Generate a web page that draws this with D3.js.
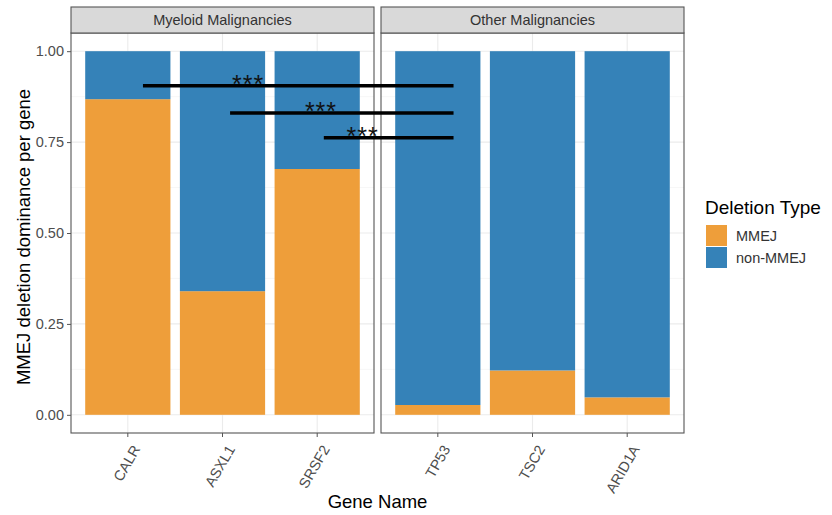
<!DOCTYPE html>
<html>
<head>
<meta charset="utf-8">
<script src="https://cdn.jsdelivr.net/npm/d3@7"></script>
<style>
  html, body { margin: 0; padding: 0; background: #fff; }
  svg { display: block; font-family: "Liberation Sans", Arial, sans-serif; }
</style>
</head>
<body>
<svg id="chart" width="832" height="515"></svg>
<script>
// ---- data ----
const genes = ["CALR", "ASXL1", "SRSF2", "TP53", "TSC2", "ARID1A"];
const facets = ["Myeloid Malignancies", "Other Malignancies"];
const geneFacet = [0, 0, 0, 1, 1, 1];
const mmejShare = [0.868, 0.34, 0.676, 0.027, 0.122, 0.048];
const deletionTypes = ["MMEJ", "non-MMEJ"];
const typeColors = ["#EE9E3A", "#3582B8"];
const yTicks = [0, 0.25, 0.5, 0.75, 1];
const yMinor = [0.125, 0.375, 0.625, 0.875];

// significance bars (x in category units of the first facet, 1 = first gene)
const sigLabels = ["***", "***", "***"];
const sigY = [0.905, 0.83, 0.762];
const sigStart = [1.16, 2.08, 3.07];
const sigEnd = [4.44, 4.44, 4.44];
const sigLabelX = [2.27, 3.04, 3.48];

// ---- layout ----
const svg = d3.select("#chart");
const plotTop = 33, plotBottom = 433, stripTop = 7;
const panelX = [[71, 374], [381, 684]];

const y = d3.scaleLinear().domain([-0.05, 1.05]).range([plotBottom, plotTop]);

const rows = genes.map((g, i) => ({ gene: g, facet: geneFacet[i], MMEJ: mmejShare[i], "non-MMEJ": 1 - mmejShare[i] }));
const stacked = d3.stack().keys(deletionTypes)(rows);
const color = d3.scaleOrdinal().domain(deletionTypes).range(typeColors);

const bandScales = facets.map((f, fi) =>
  d3.scaleBand()
    .domain(genes.filter((g, i) => geneFacet[i] === fi))
    .range(panelX[fi])
    .paddingInner(0.1)
    .paddingOuter(0.15)
);

facets.forEach((f, fi) => {
  const [x0, x1] = panelX[fi];
  const xb = bandScales[fi];
  const g = svg.append("g");

  // grid
  g.selectAll(".minor").data(yMinor).join("line")
    .attr("x1", x0).attr("x2", x1)
    .attr("y1", d => y(d)).attr("y2", d => y(d))
    .attr("stroke", "#f2f2f2").attr("stroke-width", 0.6);
  g.selectAll(".major").data(yTicks).join("line")
    .attr("x1", x0).attr("x2", x1)
    .attr("y1", d => y(d)).attr("y2", d => y(d))
    .attr("stroke", "#ebebeb").attr("stroke-width", 1.1);
  g.selectAll(".vgrid").data(xb.domain()).join("line")
    .attr("x1", d => xb(d) + xb.bandwidth() / 2).attr("x2", d => xb(d) + xb.bandwidth() / 2)
    .attr("y1", plotTop).attr("y2", plotBottom)
    .attr("stroke", "#ebebeb").attr("stroke-width", 1.1);

  // bars
  stacked.forEach(layer => {
    g.append("g").selectAll("rect")
      .data(layer.filter(d => d.data.facet === fi))
      .join("rect")
      .attr("x", d => xb(d.data.gene))
      .attr("width", xb.bandwidth())
      .attr("y", d => y(d[1]))
      .attr("height", d => y(d[0]) - y(d[1]))
      .attr("fill", color(layer.key));
  });

  // panel border
  g.append("rect")
    .attr("x", x0).attr("y", plotTop)
    .attr("width", x1 - x0).attr("height", plotBottom - plotTop)
    .attr("fill", "none").attr("stroke", "#555").attr("stroke-width", 1.1);

  // strip
  g.append("rect")
    .attr("x", x0).attr("y", stripTop)
    .attr("width", x1 - x0).attr("height", plotTop - stripTop)
    .attr("fill", "#d9d9d9").attr("stroke", "#555").attr("stroke-width", 1.1);
  g.append("text")
    .attr("x", (x0 + x1) / 2).attr("y", (stripTop + plotTop) / 2 + 5)
    .attr("text-anchor", "middle")
    .attr("font-size", 14.5).attr("fill", "#333")
    .text(f);

  // x axis
  const xAxis = g.append("g").attr("transform", `translate(0,${plotBottom})`)
    .call(d3.axisBottom(xb).tickSize(4).tickPadding(3));
  xAxis.select(".domain").remove();
  xAxis.selectAll(".tick line").attr("stroke", "#555");
  xAxis.selectAll(".tick text")
    .attr("font-size", 14.5).attr("fill", "#4d4d4d")
    .attr("text-anchor", "end")
    .attr("dy", null).attr("y", null)
    .attr("transform", "translate(13,16) rotate(-60)");
});

// y axis
const yAxis = svg.append("g").attr("transform", `translate(${panelX[0][0]},0)`)
  .call(d3.axisLeft(y).tickValues(yTicks).tickFormat(d3.format(".2f")).tickSize(4).tickPadding(3));
yAxis.select(".domain").remove();
yAxis.selectAll(".tick line").attr("stroke", "#555");
yAxis.selectAll(".tick text").attr("font-size", 14.5).attr("fill", "#4d4d4d");

// axis titles
svg.append("text")
  .attr("transform", `translate(30,${(plotTop + plotBottom) / 2 + 4}) rotate(-90)`)
  .attr("text-anchor", "middle").attr("font-size", 18.5).attr("fill", "#000")
  .text("MMEJ deletion dominance per gene");
svg.append("text")
  .attr("x", (panelX[0][0] + panelX[1][1]) / 2).attr("y", 508)
  .attr("text-anchor", "middle").attr("font-size", 18.5).attr("fill", "#000")
  .text("Gene Name");

// significance bars
const xSig = d3.scaleLinear().domain([0.4, 3.6]).range(panelX[0]);
const sig = svg.append("g");
sigY.forEach((v, i) => {
  sig.append("line")
    .attr("x1", xSig(sigStart[i])).attr("x2", xSig(sigEnd[i]))
    .attr("y1", y(v)).attr("y2", y(v))
    .attr("stroke", "#000").attr("stroke-width", 3.6);
  sig.append("text")
    .attr("x", xSig(sigLabelX[i])).attr("y", y(v) + 7)
    .attr("text-anchor", "middle").attr("font-size", 25).attr("fill", "#111")
    .attr("letter-spacing", 1)
    .text(sigLabels[i]);
});

// legend
const legend = svg.append("g").attr("transform", "translate(705,0)");
legend.append("text").attr("x", 0).attr("y", 214)
  .attr("font-size", 19).attr("fill", "#000").text("Deletion Type");
deletionTypes.forEach((t, i) => {
  legend.append("rect")
    .attr("x", 1).attr("y", 225 + i * 22)
    .attr("width", 21).attr("height", 21)
    .attr("fill", color(t));
  legend.append("text")
    .attr("x", 31).attr("y", 236 + i * 22 + 5)
    .attr("font-size", 14.5).attr("fill", "#333").text(t);
});
</script>
</body>
</html>
